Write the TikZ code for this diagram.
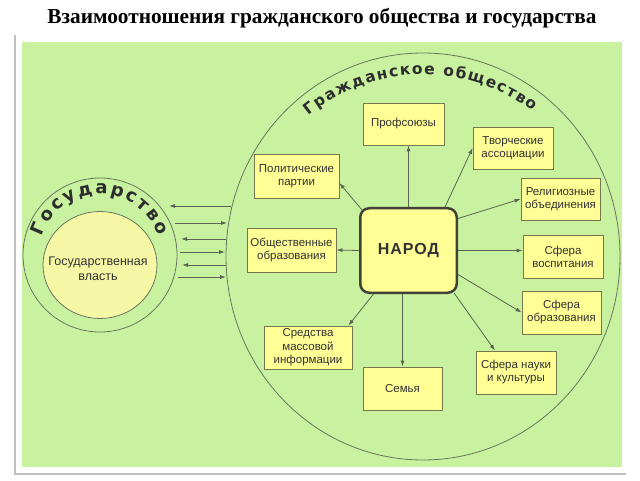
\documentclass[tikz,border=0pt]{standalone}
\usepackage{fontspec}
\setmainfont{Liberation Serif}
\newfontfamily\boxfont{Liberation Sans}
\newfontfamily\arcfont{DejaVu Sans}
\usetikzlibrary{arrows.meta,shapes.geometric,decorations.text,calc}
\definecolor{bg}{RGB}{200,242,160}
\definecolor{boxfill}{RGB}{255,255,150}
\definecolor{innerfill}{RGB}{245,247,165}
\definecolor{boxline}{RGB}{120,118,75}
\definecolor{narodline}{RGB}{65,65,55}
\definecolor{arrline}{RGB}{90,100,80}
\definecolor{circline}{RGB}{105,118,95}
\definecolor{txt}{RGB}{50,50,50}
\definecolor{arctext}{RGB}{45,45,45}
\begin{document}
\begin{tikzpicture}[x=1pt,y=1pt,
  box/.style={draw=boxline, fill=boxfill, line width=0.8pt, inner sep=0pt, align=center,
    font=\boxfont\fontsize{11.5}{13}\selectfont, text=txt},
  arr/.style={draw=arrline, line width=0.8pt, -{Latex[length=6pt,width=4pt]}},
  ring/.style={draw=circline, line width=0.8pt, inner sep=0pt},
]
\useasboundingbox (0,0) rectangle (640,480);
\fill[white] (0,0) rectangle (640,480);
\draw[black!25, line width=1.5pt] (15,445) -- (15,6) -- (626,6);
\fill[bg] (22,13) rectangle (622,438);

\node[font=\bfseries\fontsize{21.3}{21.3}\selectfont] (title) at (322,462)
  {Взаимоотношения гражданского общества и государства};

% circles
\node[ring, ellipse, minimum width=394pt, minimum height=407pt] (obsh) at (423,223.5) {};
\node[ring, circle, minimum size=154pt] (gos) at (100,225) {};
\node[ring, ellipse, fill=innerfill, minimum width=114pt, minimum height=107pt] (vlast) at (100,215) {};
\node[align=center, text=txt, font=\boxfont\fontsize{12.5}{15}\selectfont] (vlasttext) at (98,211)
  {Государственная\\власть};

% curved texts
\path[decorate, decoration={text along path,
   text={|\arcfont\bfseries\fontsize{15.5}{15.5}\selectfont|Гражданское общество},
   text align=fit to path, text color=arctext}]
  ($(obsh.center)+(129:182)$) arc[start angle=129, end angle=53, radius=182];
\path[decorate, decoration={text along path,
   text={|\arcfont\bfseries\fontsize{18}{18}\selectfont|Государство},
   text align=fit to path, text color=arctext}]
  ($(gos.center)+(162:61)$) arc[start angle=162, end angle=18, radius=61];

% arrows between state and society
\coordinate (l1a) at (231,274); \coordinate (l1b) at (169,274);
\coordinate (r1a) at (175,257); \coordinate (r1b) at (227,257);
\coordinate (l2a) at (226,241); \coordinate (l2b) at (181,241);
\coordinate (r2a) at (180,228); \coordinate (r2b) at (225,228);
\coordinate (l3a) at (226,215); \coordinate (l3b) at (182,215);
\coordinate (r3a) at (178,203); \coordinate (r3b) at (226,203);
\foreach \s/\e in {l1a/l1b,r1a/r1b,l2a/l2b,r2a/r2b,l3a/l3b,r3a/r3b}
  \draw[arr] (\s) -- (\e);

% boxes
\node[box, minimum width=81pt, minimum height=42pt] (prof) at (403.5,356) {Профсоюзы};
\node[box, minimum width=80pt, minimum height=42pt] (tvor) at (513,332) {Творческие\\ассоциации};
\node[box, minimum width=85pt, minimum height=44pt] (polit) at (296.5,304) {Политические\\партии};
\node[box, minimum width=79pt, minimum height=42pt] (relig) at (560.5,281) {Религиозные\\объединения};
\node[box, minimum width=89pt, minimum height=44pt] (obsch) at (291.5,230) {Общественные\\образования};
\node[box, minimum width=80pt, minimum height=43pt] (vosp) at (563,223.5) {Сфера\\воспитания};
\node[box, minimum width=79pt, minimum height=43pt] (obraz) at (561.5,167.5) {Сфера\\образования};
\node[box, minimum width=88pt, minimum height=43pt, font=\boxfont\fontsize{11.5}{13.5}\selectfont] (smi) at (308,132.5) {Средства\\массовой\\информации};
\node[box, minimum width=79pt, minimum height=43pt] (semya) at (402.5,91.5) {Семья};
\node[box, minimum width=80pt, minimum height=43pt] (nauka) at (516,107.5) {Сфера науки\\и культуры};

\node[draw=narodline, fill=boxfill, line width=2.5pt, rounded corners=9pt,
  minimum width=96.5pt, minimum height=84.5pt, inner sep=0pt, text=txt,
  font=\boxfont\bfseries\fontsize{16}{16}\selectfont] (narod) at (408.5,229.5)
  {\addfontfeature{LetterSpace=6}НАРОД};

% arrows from the people
\draw[arr] (narod.north) -- (narod.north |- prof.south);
\draw[arr] ([xshift=-13pt]narod.north east) -- (tvor.west);
\draw[arr] ([xshift=3pt,yshift=-3pt]narod.north west) -- ([yshift=-7pt]polit.east);
\draw[arr] ([yshift=32pt]narod.east) -- (relig.west);
\draw[arr] (narod.west) -- (obsch.east);
\draw[arr] (narod.east) -- (narod.east -| vosp.west);
\draw[arr] ([yshift=-24pt]narod.east) -- (obraz.west);
\draw[arr] ([xshift=-35pt]narod.south) -- ([xshift=-4pt]smi.north east);
\draw[arr] (narod.south -| semya.north) -- (semya.north);
\draw[arr] ([xshift=-4pt,yshift=1pt]narod.south east) -- ([xshift=-21pt]nauka.north);
\end{tikzpicture}
\end{document}
